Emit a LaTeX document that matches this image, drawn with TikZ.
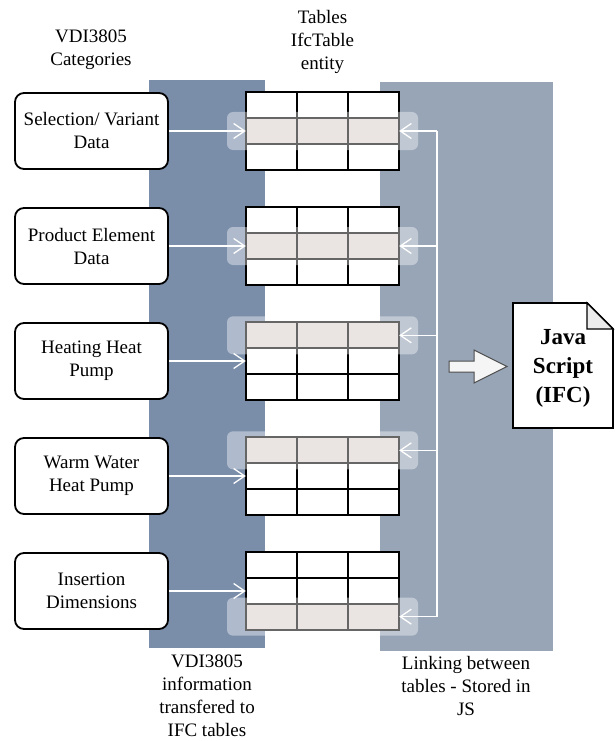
\documentclass[tikz,border=0pt]{standalone}
\usepackage{fontspec}
\setmainfont{LiberationSerif}[Extension=.ttf, UprightFont=*-Regular, BoldFont=*-Bold, ItalicFont=*-Italic, BoldItalicFont=*-BoldItalic]
\usetikzlibrary{arrows.meta}
\definecolor{bandlinks}{HTML}{7A8EAA}
\definecolor{bandrechts}{HTML}{97A5B6}
\definecolor{zeilefarbe}{HTML}{DCD5D0}

\begin{document}
\begin{tikzpicture}[x=1pt, y=-1pt, font=\fontsize{19}{23}\selectfont,
	kategorie/.style={draw, line width=1.8pt, rounded corners=9pt, fill=white, minimum width=153pt, minimum height=76pt, align=center, inner sep=2pt},
	tabelle/.style={fill=white, minimum width=153pt, minimum height=77pt, inner sep=0pt},
	zeilehl/.style={fill=zeilefarbe, minimum width=153pt, minimum height=25.67pt, inner sep=0pt},
	glanz/.style={fill=white, opacity=0.4, rounded corners=6pt, minimum width=191pt, minimum height=38pt, inner sep=0pt},
	pfeil/.style={white, line width=1.3pt, -{Straight Barb[length=11pt,width=15pt]}}]
	\useasboundingbox (0,0) rectangle (615,741);
	
	% Hintergrundbaender
	\fill[bandlinks] (149,80) rectangle (265,648);
	\fill[bandrechts] (380,82) rectangle (553,651);
	
	% Ueberschriften
	\node[align=center] (titelkat) at (91,50) {VDI3805\\Categories};
	\node[align=center] (titeltab) at (322.5,42) {Tables\\IfcTable\\entity};
	\node[align=center] (titelifc) at (207,696) {VDI3805\\information\\transfered to\\IFC tables};
	\node[align=center] (titeljs) at (466,686) {Linking between\\tables - Stored in\\JS};
	
	% Kategorien
	\node[kategorie] (kat1) at (91.5,131) {Selection/ Variant\\Data};
	\node[kategorie] (kat2) at (91.5,246) {Product Element\\Data};
	\node[kategorie] (kat3) at (91.5,361) {Heating Heat\\Pump};
	\node[kategorie] (kat4) at (91.5,476) {Warm Water\\Heat Pump};
	\node[kategorie] (kat5) at (91.5,591) {Insertion\\Dimensions};
	
	% Tabellen (3x3), eine Zeile hervorgehoben
	\foreach \n/\y/\r in {1/131/0, 2/246/0, 3/361/-25.67, 4/476/-25.67, 5/591/25.67} {
		\begin{scope}[shift={(322.5,\y)}]
			\node[tabelle] (tab\n) at (0,0) {};
			\node[zeilehl] (hl\n) at (0,\r) {};
			\draw[line width=1.5pt] (-76.5,-12.83) -- (76.5,-12.83) (-76.5,12.83) -- (76.5,12.83)
				(-25.5,-38.5) -- (-25.5,38.5) (25.5,-38.5) -- (25.5,38.5);
			\draw[line width=1.8pt] (tab\n.north west) rectangle (tab\n.south east);
		\end{scope}
	}
	
	% Kategorie -> Tabelle
	\foreach \n in {1,...,5}
		\draw[pfeil] (kat\n.east) -- (tab\n.west);
	
	% Verknuepfung zwischen den Tabellen
	\coordinate (bus) at (437,131);
	\draw[white, line width=1.3pt] (hl1.east -| bus) -- (hl5.east -| bus);
	\foreach \n in {1,...,5}
		\draw[pfeil] (hl\n.east -| bus) -- (hl\n.east);
	
	% Hervorhebung
	\foreach \n in {1,...,5}
		\node[glanz] (glanz\n) at (hl\n) {};
	
	% Blockpfeil und Dokument
	\draw[draw=gray!60!black, fill=gray!8, line width=1pt] (449,361) -- (474,361) -- (474,350) -- (507,366.5)
		-- (474,383) -- (474,372) -- (449,372) -- cycle;
	\draw[line width=1.8pt, fill=white] (513,303) -- (587,303) -- (613,329) -- (613,428) -- (513,428) -- cycle;
	\draw[line width=1.3pt, fill=gray!15] (587,303) -- (587,329) -- (613,329) -- cycle;
	\node[font=\bfseries\fontsize{23}{29}\selectfont, align=center] (js) at (563,368) {Java\\Script\\(IFC)};
\end{tikzpicture}
\end{document}
